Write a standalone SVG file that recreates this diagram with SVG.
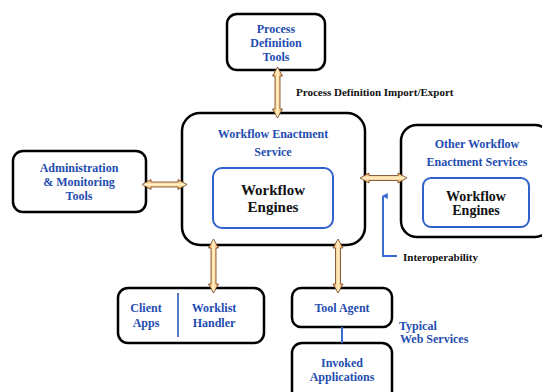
<svg xmlns="http://www.w3.org/2000/svg" width="542" height="392" viewBox="0 0 542 392">
<defs>
<linearGradient id="gv" x1="0" y1="0" x2="1" y2="0">
<stop offset="0" stop-color="#f29a48"/><stop offset="0.5" stop-color="#fff3c8"/><stop offset="1" stop-color="#f29a48"/>
</linearGradient>
<linearGradient id="gh" x1="0" y1="0" x2="0" y2="1">
<stop offset="0" stop-color="#f29a48"/><stop offset="0.5" stop-color="#fff3c8"/><stop offset="1" stop-color="#f29a48"/>
</linearGradient>
<marker id="bluehead" viewBox="0 0 10 10" refX="5" refY="2" markerWidth="6" markerHeight="7" orient="auto-start-reverse" markerUnits="userSpaceOnUse">
<path d="M0,10 L5,0 L10,10 Z" fill="#3a6bd0"/>
</marker>
</defs>
<style>
.box{fill:#fff;stroke:#000;stroke-width:2.5}
.inner{fill:#fff;stroke:#2f62cc;stroke-width:2}
text{font-family:'Liberation Serif','Times New Roman',serif;font-weight:bold}
.bt{fill:#1f4db0;text-anchor:middle;font-size:12px}
.st{fill:#1f4db0;text-anchor:start;font-size:12px}
.kt{fill:#111;font-size:11px}
.eng{fill:#111;text-anchor:middle}
.arv{fill:url(#gv);stroke:#6b4020;stroke-width:0.8}
.arh{fill:url(#gh);stroke:#6b4020;stroke-width:0.8}
.blue{stroke:#3a6bd0;stroke-width:2;fill:none}
</style>
<rect width="542" height="392" fill="#fff"/>

<g id="process-definition-tools">
<rect class="box" x="227" y="14" width="98" height="56" rx="10"/>
<text class="bt" x="276" y="33">Process</text>
<text class="bt" x="276" y="47">Definition</text>
<text class="bt" x="276" y="61">Tools</text>
</g>

<g id="workflow-enactment-service">
<rect class="box" x="182" y="113" width="183" height="132" rx="18"/>
<text class="bt" x="273" y="138">Workflow Enactment</text>
<text class="bt" x="273" y="156">Service</text>
<rect class="inner" x="213" y="168" width="120" height="60" rx="9"/>
<text class="eng" x="273" y="195" style="font-size:15px">Workflow</text>
<text class="eng" x="273" y="212" style="font-size:15px">Engines</text>
</g>

<g id="administration-monitoring-tools">
<rect class="box" x="13" y="151" width="133" height="61" rx="10"/>
<text class="bt" x="79" y="172">Administration</text>
<text class="bt" x="79" y="186">&amp; Monitoring</text>
<text class="bt" x="79" y="200">Tools</text>
</g>

<g id="other-workflow-enactment-services">
<rect class="box" x="401" y="125" width="150" height="112" rx="16"/>
<text class="bt" x="477" y="148">Other Workflow</text>
<text class="bt" x="477" y="166">Enactment Services</text>
<rect class="inner" x="423" y="178" width="106" height="49" rx="8"/>
<text class="eng" x="476" y="201" style="font-size:14px">Workflow</text>
<text class="eng" x="476" y="215" style="font-size:14px">Engines</text>
</g>

<g id="client-apps-worklist-handler">
<rect class="box" x="118" y="288" width="146" height="55" rx="10"/>
<line x1="178" y1="293" x2="178" y2="337" stroke="#1f4db0" stroke-width="1.5"/>
<text class="bt" x="146" y="312">Client</text>
<text class="bt" x="146" y="327">Apps</text>
<text class="bt" x="214" y="312">Worklist</text>
<text class="bt" x="214" y="327">Handler</text>
</g>

<g id="tool-agent">
<rect class="box" x="292" y="288" width="100" height="39" rx="9"/>
<text class="bt" x="342" y="312">Tool Agent</text>
</g>

<g id="invoked-applications">
<rect class="box" x="292" y="343" width="100" height="62" rx="10"/>
<text class="bt" x="342" y="367">Invoked</text>
<text class="bt" x="342" y="381">Applications</text>
</g>

<g id="connectors">
<path class="arv" d="M277.5,67 L282.5,76 L280,76 L280,109 L282.5,109 L277.5,118 L272.5,109 L275,109 L275,76 L272.5,76 Z"/>
<path class="arh" d="M142,184.5 L151,179.5 L151,182 L178,182 L178,179.5 L187,184.5 L178,189.5 L178,187 L151,187 L151,189.5 Z"/>
<path class="arh" d="M360,178 L369,173 L369,175.5 L398,175.5 L398,173 L407,178 L398,183 L398,180.5 L369,180.5 L369,183 Z"/>
<path class="arv" d="M213.5,239 L218.5,248 L216,248 L216,284 L218.5,284 L213.5,293 L208.5,284 L211,284 L211,248 L208.5,248 Z"/>
<path class="arv" d="M338,239 L343,248 L340.5,248 L340.5,284 L343,284 L338,293 L333,284 L335.5,284 L335.5,248 L333,248 Z"/>
<polyline class="blue" points="397,256 383,256 383,196" marker-end="url(#bluehead)"/>
<line class="blue" x1="342" y1="327" x2="342" y2="343"/>
</g>

<g id="labels">
<text class="kt" x="296" y="96">Process Definition Import/Export</text>
<text class="kt" x="403" y="261">Interoperability</text>
<text class="st" x="399" y="330">Typical</text>
<text class="st" x="400" y="343">Web Services</text>
</g>
</svg>
